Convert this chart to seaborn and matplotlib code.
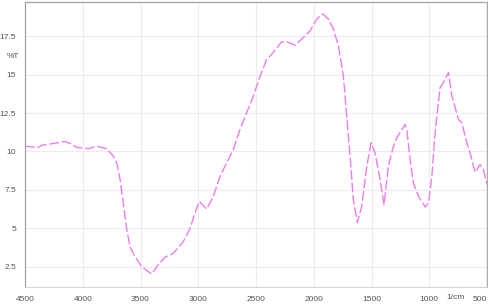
import matplotlib
matplotlib.use("Agg")
import matplotlib.pyplot as plt
import seaborn as sns
import pandas as pd
from matplotlib.ticker import MultipleLocator, FixedLocator

wavenumber = [4500, 4385, 4355, 4255, 4154, 4110, 4052, 3952, 3879, 3793, 3735,
              3701, 3677, 3649, 3619, 3591, 3548, 3490, 3432, 3403, 3360, 3288,
              3216, 3129, 3071, 3028, 2991, 2927, 2870, 2812, 2754, 2697, 2639,
              2581, 2523, 2480, 2407, 2364, 2278, 2234, 2162, 2090, 2032, 1974,
              1922, 1874, 1831, 1787, 1744, 1715, 1686, 1658, 1623, 1585, 1541,
              1504, 1470, 1426, 1392, 1355, 1311, 1282, 1210, 1195, 1167, 1138,
              1093, 1035, 1007, 978, 950, 907, 878, 834, 805, 748, 719, 676, 647,
              604, 561, 532, 500]
transmittance = [10.34, 10.27, 10.40, 10.52, 10.65, 10.52, 10.27, 10.18, 10.35,
                 10.18, 9.69, 9.15, 8.17, 6.64, 4.90, 3.81, 3.15, 2.50, 2.17,
                 2.02, 2.50, 3.11, 3.37, 4.13, 5.00, 5.99, 6.75, 6.25, 7.07, 8.38,
                 9.26, 10.13, 11.44, 12.53, 13.62, 14.60, 16.02, 16.34, 17.15,
                 17.15, 16.93, 17.43, 17.87, 18.63, 18.96, 18.63, 17.98, 16.89,
                 14.92, 12.31, 9.69, 6.86, 5.38, 6.42, 9.04, 10.57, 9.91, 8.17,
                 6.53, 9.04, 10.34, 10.89, 11.76, 11.44, 9.48, 7.95, 7.07, 6.38,
                 6.64, 8.38, 11.22, 14.16, 14.49, 15.15, 13.62, 12.09, 11.87,
                 10.57, 9.91, 8.64, 9.15, 8.82, 7.84]

x_ticks = [4500, 4000, 3500, 3000, 2500, 2000, 1500, 1000, 500]
x_tick_labels = ["4500", "4000", "3500", "3000", "2500", "2000", "1500", "1000", "500"]
y_ticks = [2.5, 5, 7.5, 10, 12.5, 15, 17.5]
y_tick_labels = ["2.5", "5", "7.5", "10", "12.5", "15", "17.5"]

df = pd.DataFrame({"wn": wavenumber, "T": transmittance})

sns.set_style("white")
plt.rcParams["font.family"] = ["Liberation Sans", "DejaVu Sans"]

fig = plt.figure(figsize=(4.89, 3.06), dpi=100)
ax = fig.add_axes([0.0511, 0.063, 0.945, 0.9305])

sns.lineplot(data=df, x="wn", y="T", ax=ax, color="#ee7cee", linewidth=1.0,
             linestyle=(0, (7, 2)), sort=False)

ax.set_xlim(4500, 500)
ax.set_ylim(1.19, 19.74)

ax.xaxis.set_major_locator(FixedLocator(x_ticks))
ax.set_xticklabels(x_tick_labels)
ax.xaxis.set_minor_locator(MultipleLocator(100))
ax.yaxis.set_major_locator(FixedLocator(y_ticks))
ax.set_yticklabels(y_tick_labels)
ax.yaxis.set_minor_locator(MultipleLocator(0.5))

ax.tick_params(axis="both", which="major", direction="out", length=5, width=0.8,
               color="#666666", labelsize=6, labelcolor="#555555", pad=1.5)
ax.tick_params(axis="both", which="minor", direction="out", length=3, width=0.6,
               color="#777777")

labels = ax.get_xticklabels()
labels[-1].set_horizontalalignment("right")
labels[0].set_horizontalalignment("center")

ax.grid(True, which="major", color="#ececec", linewidth=0.8)
ax.set_axisbelow(True)

for side in ["top", "right"]:
    ax.spines[side].set_color("#aaaaaa")
    ax.spines[side].set_linewidth(1.0)
ax.spines["left"].set_color("#999999")
ax.spines["left"].set_linewidth(0.8)
ax.spines["bottom"].set_color("#cccccc")
ax.spines["bottom"].set_linewidth(0.6)

ax.set_xlabel("")
ax.set_ylabel("")
ax.text(-0.012, 0.809, "%T", transform=ax.transAxes, ha="right", va="center",
        fontsize=6, color="#555555")
ax.text(0.932, -0.024, "1/cm", transform=ax.transAxes, ha="center", va="top",
        fontsize=6, color="#555555")

fig.savefig("out.png", dpi=100)
